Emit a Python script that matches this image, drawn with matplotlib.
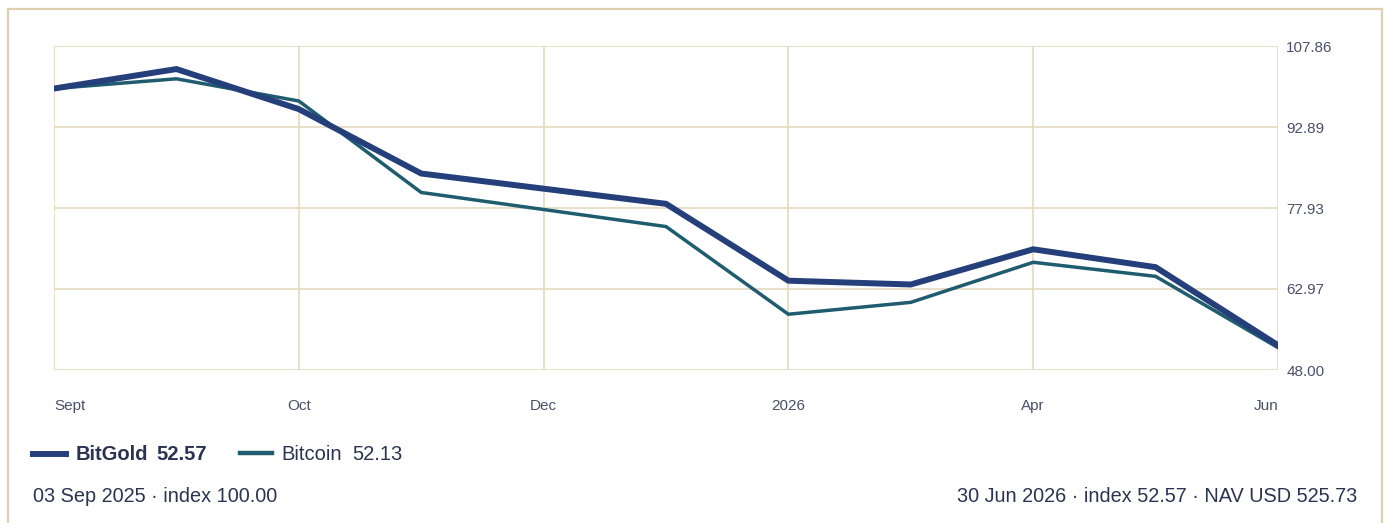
import matplotlib
matplotlib.use("Agg")
import matplotlib.pyplot as plt
from matplotlib.lines import Line2D
from matplotlib.patches import Rectangle

plt.rcParams['font.family'] = ['Liberation Sans', 'DejaVu Sans']

# data (index values, start = 100)
x_pos = [0, 1, 2, 3, 5, 6, 7, 8, 9, 10]
bitgold = [100.00, 103.6, 96.2, 84.3, 78.7, 64.5, 63.8, 70.3, 67.0, 52.57]
bitcoin = [100.00, 101.8, 97.7, 80.8, 74.5, 58.3, 60.5, 67.9, 65.3, 52.13]

tick_pos = [0, 2, 4, 6, 8, 10]
tick_labels = ['Sept', 'Oct', 'Dec', '2026', 'Apr', 'Jun']
y_ticks = [48.00, 62.97, 77.93, 92.89, 107.86]

legend_names = ['BitGold', 'Bitcoin']
legend_values = ['52.57', '52.13']
footer_left = '03 Sep 2025 \u00b7 index 100.00'
footer_right = '30 Jun 2026 \u00b7 index 52.57 \u00b7 NAV USD 525.73'

c_gold = '#243f7a'
c_btc = '#1f5c6f'
c_grid = '#e6dcc4'
c_text = '#2b3350'
c_tick = '#4a5068'

W, H = 1386, 523
fig = plt.figure(figsize=(W / 100, H / 100), dpi=100)

def fx(px):
    return px / W

def fy(py):
    return 1 - py / H

# outer frame
fig.patches.append(Rectangle((fx(8), fy(560)), fx(1382) - fx(8), fy(9) - fy(560),
                             transform=fig.transFigure, fill=False,
                             edgecolor='#ddd0ae', linewidth=1.6))

ax = fig.add_axes([fx(54), fy(370), fx(1278) - fx(54), fy(46) - fy(370)])
ax.plot(x_pos, bitcoin, color=c_btc, linewidth=2.5, solid_joinstyle='miter', zorder=3)
ax.plot(x_pos, bitgold, color=c_gold, linewidth=4.3, solid_joinstyle='miter', zorder=4)

ax.set_xlim(0, 10)
ax.set_ylim(48.00, 107.86)
ax.set_xticks(tick_pos)
ax.set_xticklabels(tick_labels)
ax.set_yticks(y_ticks)
ax.set_yticklabels(['%.2f' % v for v in y_ticks])
ax.yaxis.tick_right()
ax.tick_params(axis='both', length=0, labelsize=11, colors=c_tick)
ax.tick_params(axis='y', pad=6)
ax.tick_params(axis='x', pad=21)
labels = ax.get_xticklabels()
labels[0].set_horizontalalignment('left')
labels[-1].set_horizontalalignment('right')
ax.grid(True, color=c_grid, linewidth=1.3, zorder=0)
ax.set_axisbelow(True)
for s in ax.spines.values():
    s.set_visible(False)

# legend row
fig.add_artist(Line2D([fx(33), fx(66)], [fy(454), fy(454)], color=c_gold, linewidth=4.3,
                      transform=fig.transFigure))
fig.text(fx(76), fy(454), legend_names[0], fontsize=14.5, fontweight='bold', color=c_text,
         va='center', ha='left')
fig.text(fx(156), fy(454), legend_values[0], fontsize=14.5, fontweight='bold', color=c_text,
         va='center', ha='left')
fig.add_artist(Line2D([fx(240), fx(272)], [fy(453), fy(453)], color=c_btc, linewidth=3.2,
                      transform=fig.transFigure))
fig.text(fx(281), fy(454), legend_names[1], fontsize=14.5, color=c_text, va='center', ha='left')
fig.text(fx(352), fy(454), legend_values[1], fontsize=14.5, color=c_text, va='center', ha='left')

# footer
fig.text(fx(33), fy(496), footer_left, fontsize=14.3, color=c_text, va='center', ha='left')
fig.text(fx(1357), fy(496), footer_right, fontsize=14.3, color=c_text, va='center', ha='right')

fig.savefig('out.png', dpi=100, facecolor='white')
